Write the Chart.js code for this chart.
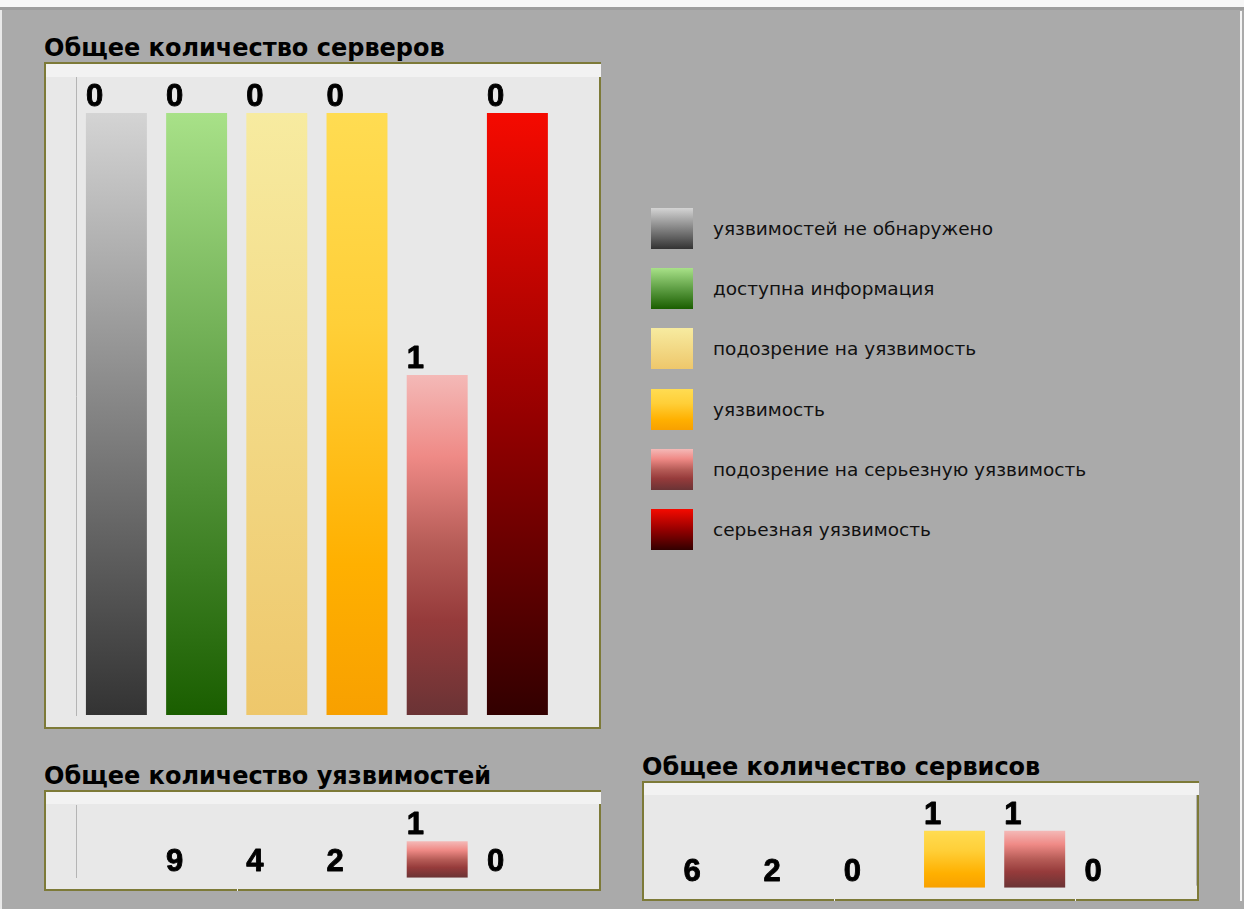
<!DOCTYPE html>
<html lang="ru">
<head>
<meta charset="utf-8">
<title>Общее количество серверов</title>
<script src="https://cdn.jsdelivr.net/npm/chart.js@4/dist/chart.umd.min.js"></script>
<style>
  html, body { margin: 0; padding: 0; }
  body { width: 1244px; height: 909px; position: relative; overflow: hidden; background: #aaaaaa; }
  .band-light { position: absolute; left: 0; top: 0; width: 1244px; height: 7px; background: #f6f6f6; }
  .band-dark { position: absolute; left: 0; top: 7px; width: 1244px; height: 3px; background: #9d9d9d; }
  .edge-left { position: absolute; left: 0; top: 10px; width: 2px; height: 899px; background: #e9e9e9; }
  .edge-right { position: absolute; left: 1240px; top: 11px; width: 2px; height: 890px; background: #f4f4f4; }
  .panel { position: absolute; box-sizing: border-box; border: 2px solid #7d7a38; background: #e8e8e8; }
  .strip { position: absolute; background: #f2f2f2; }
  .notch { position: absolute; width: 1px; height: 2px; background: #f2f2f2; }
  .title { position: absolute; font: bold 24px "DejaVu Sans", sans-serif; line-height: 24px; color: #000; white-space: nowrap; }
  canvas { position: absolute; }
  #legend { position: absolute; left: 651px; top: 208px; }
  .row { display: flex; align-items: center; height: 41px; margin-bottom: 19.2px; }
  .swatch { width: 42px; height: 41px; flex: none; }
  .label { margin-left: 20px; font: 18.5px "DejaVu Sans", sans-serif; color: #111; white-space: nowrap; }
</style>
</head>
<body>
<div class="band-light"></div>
<div class="band-dark"></div>
<div class="edge-left"></div>
<div class="edge-right"></div>

<div class="title" style="left:44px; top:36px;">Общее количество серверов</div>
<div class="panel" style="left:44px; top:62px; width:557px; height:667px;"></div>
<div class="strip" style="left:46px; top:64px; width:555px; height:13px;"></div>
<canvas id="servers" width="553" height="663" style="left:46px; top:64px; width:553px; height:663px;"></canvas>

<div id="legend"></div>

<div class="title" style="left:44px; top:764px;">Общее количество уязвимостей</div>
<div class="panel" style="left:44px; top:790px; width:557px; height:101px;"></div>
<div class="strip" style="left:46px; top:792px; width:555px; height:12px;"></div>
<div class="notch" style="left:237px; top:889px;"></div>
<canvas id="vulns" width="553" height="97" style="left:46px; top:792px; width:553px; height:97px;"></canvas>

<div class="title" style="left:642px; top:755px;">Общее количество сервисов</div>
<div class="panel" style="left:642px; top:781px; width:557px; height:120px;"></div>
<div class="strip" style="left:644px; top:783px; width:555px; height:12px;"></div>
<div class="notch" style="left:834px; top:899px;"></div>
<div class="notch" style="left:1075px; top:899px;"></div>
<canvas id="services" width="553" height="116" style="left:644px; top:783px; width:553px; height:116px;"></canvas>

<script>
// Severity categories (also the legend entries)
const categories = [
  'уязвимостей не обнаружено',
  'доступна информация',
  'подозрение на уязвимость',
  'уязвимость',
  'подозрение на серьезную уязвимость',
  'серьезная уязвимость'
];

// Numbers printed above each column
const serverCounts  = [0, 0, 0, 0, 1, 0];
const vulnCounts    = [null, 9, 4, 2, 1, 0];
const serviceCounts = [6, 2, 0, 1, 1, 0];

// Column heights, in percent of the panel scale
const serverLevels  = [100, 100, 100, 100, 56.5, 100];
const vulnLevels    = [0, 0, 0, 0, 50, 0];
const serviceLevels = [0, 0, 0, 61.5, 61.5, 0];

// Vertical colour ramps per category (top -> bottom)
const ramps = [
  [[0, '#d4d4d4'], [1, '#333333']],
  [[0, '#a8e188'], [0.5, '#5f9f45'], [1, '#1a5e00']],
  [[0, '#f7eba0'], [1, '#eec76b']],
  [[0, '#ffdc52'], [0.35, '#ffcf38'], [0.75, '#ffb000'], [1, '#f8a000']],
  [[0, '#f4b9b7'], [0.24, '#ef8a86'], [0.5, '#b65c57'], [0.72, '#963b3b'], [1, '#6a3335']],
  [[0, '#f50a00'], [0.5, '#960000'], [1, '#320000']]
];

function columnFill(ctx) {
  const ramp = ramps[ctx.dataIndex % ramps.length];
  const chart = ctx.chart;
  const y = chart.scales && chart.scales.y;
  if (ctx.type !== 'data' || !y) return ramp[0][1];
  const top = y.getPixelForValue(ctx.raw || 0);
  const base = y.getPixelForValue(0);
  if (!isFinite(top) || !isFinite(base) || top === base) return ramp[0][1];
  const g = chart.ctx.createLinearGradient(0, top, 0, base);
  ramp.forEach(([o, c]) => g.addColorStop(o, c));
  return g;
}

// Prints the count above every column, left-aligned with the column edge
const countLabels = {
  id: 'countLabels',
  afterDatasetsDraw(chart, args, opts) {
    const meta = chart.getDatasetMeta(0);
    const c = chart.ctx;
    c.save();
    c.font = 'bold 31px "Liberation Sans", Arial, sans-serif';
    c.fillStyle = '#000';
    c.strokeStyle = '#000';
    c.lineWidth = 0.9;
    c.lineJoin = 'round';
    c.textAlign = 'left';
    c.textBaseline = 'alphabetic';
    meta.data.forEach((bar, i) => {
      const n = opts.counts[i];
      if (n === null || n === undefined) return;
      const x = bar.x - bar.width / 2;
      const y = bar.y - 7;
      c.fillText(String(n), x, y);
      c.strokeText(String(n), x, y);
    });
    c.restore();
  }
};

// Thin vertical rule to the right of the plot (services panel)
const edgeRule = {
  id: 'edgeRule',
  afterDraw(chart, args, opts) {
    if (!opts || !opts.offset) return;
    const { top, bottom, right } = chart.chartArea;
    const c = chart.ctx;
    c.save();
    c.strokeStyle = '#b4b4b4';
    c.lineWidth = 1;
    c.beginPath();
    const x = Math.round(right + opts.offset) + 0.5;
    c.moveTo(x, top);
    c.lineTo(x, bottom - 2);
    c.stroke();
    c.restore();
  }
};

function columnChart(id, counts, levels, yMax, padding, leftAxis, ruleOffset) {
  return new Chart(document.getElementById(id), {
    type: 'bar',
    data: {
      labels: categories,
      datasets: [{
        data: levels,
        backgroundColor: columnFill,
        borderWidth: 0,
        barPercentage: 0.76,
        categoryPercentage: 1
      }]
    },
    options: {
      responsive: false,
      animation: false,
      events: [],
      layout: { padding },
      plugins: {
        legend: { display: false },
        tooltip: { enabled: false },
        countLabels: { counts },
        edgeRule: { offset: ruleOffset || 0 }
      },
      scales: {
        x: { display: false },
        y: {
          display: true,
          min: 0,
          max: yMax,
          ticks: { display: false },
          grid: { display: false },
          border: { display: leftAxis, color: '#b4b4b4', width: 1 },
          afterFit(scale) { scale.width = 0; }
        }
      }
    },
    plugins: [countLabels, edgeRule]
  });
}

columnChart('servers', serverCounts, serverLevels, 106,
  { left: 30.3, right: 41.5, top: 13, bottom: 12 }, true);
columnChart('vulns', vulnCounts, vulnLevels, 100,
  { left: 30.3, right: 41.5, top: 13, bottom: 11.3 }, true);
columnChart('services', serviceCounts, serviceLevels, 100,
  { left: 29.8, right: 42, top: 12, bottom: 11.3 }, false, 40.5);

// Legend
const legend = document.getElementById('legend');
categories.forEach((name, i) => {
  const row = document.createElement('div');
  row.className = 'row';
  const sw = document.createElement('div');
  sw.className = 'swatch';
  sw.style.background = 'linear-gradient(to bottom, ' +
    ramps[i].map(([o, c]) => c + ' ' + (o * 100) + '%').join(', ') + ')';
  const tx = document.createElement('div');
  tx.className = 'label';
  tx.textContent = name;
  row.appendChild(sw);
  row.appendChild(tx);
  legend.appendChild(row);
});
</script>
</body>
</html>
